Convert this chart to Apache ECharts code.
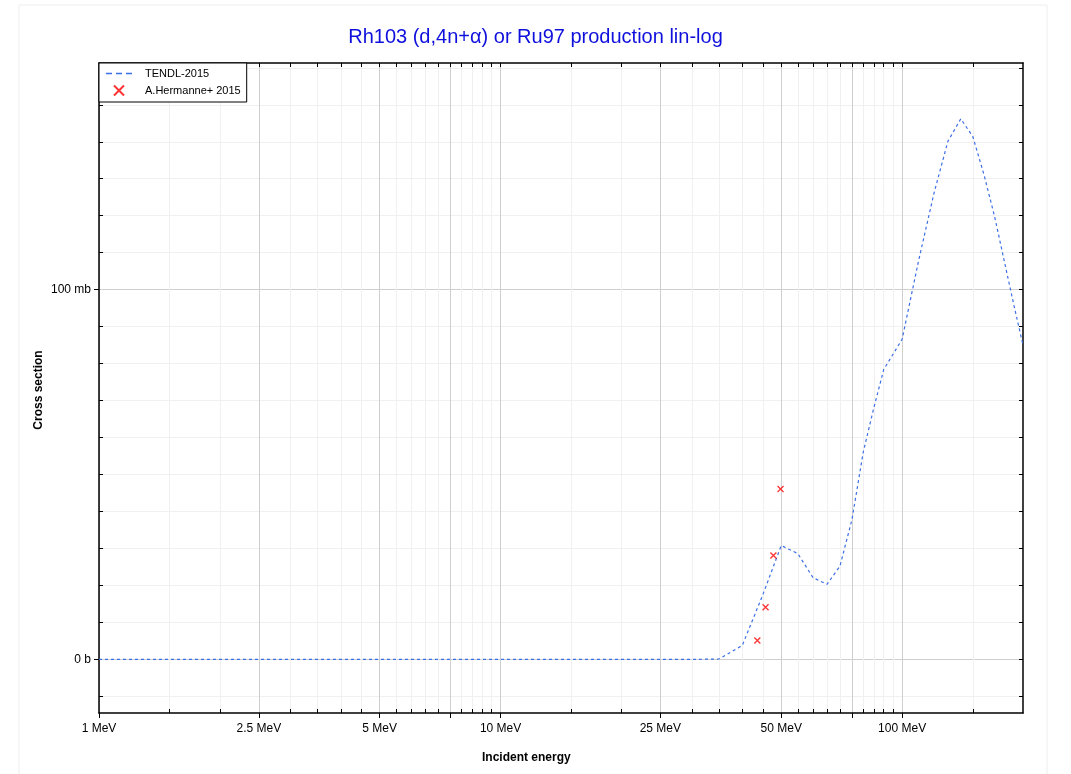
<!DOCTYPE html>
<html>
<head>
<meta charset="utf-8">
<script src="https://cdn.jsdelivr.net/npm/echarts@6/dist/echarts.min.js"></script>
<style>
  html, body { margin: 0; padding: 0; background: #fff; }
  #main { width: 1071px; height: 774px; }
</style>
</head>
<body>
<div id="main"></div>
<script>
// TENDL-2015 curve (energy in MeV, cross section in mb)
var tendlE = [1, 2, 5, 10, 15, 20, 25, 30, 35, 40, 45, 50, 55, 60, 65, 70, 75, 80, 85, 90, 100, 110, 120, 130, 140, 150, 160, 170, 180, 190, 200]
var tendlXs = [0, 0, 0, 0, 0, 0, 0, 0, 0.1, 3.8, 17.5, 30.8, 28.6, 22.1, 20.3, 25.2, 37.8, 56, 68, 78.4, 86.6, 108, 126, 140.1, 146.2, 141.4, 131, 119.7, 107.3, 95.6, 85]
// A.Hermanne+ 2015 measured points
var expE = [43.6, 45.7, 47.8, 49.8]
var expXs = [5.1, 14.1, 28.1, 46.1]
// axis ticks
var xMajor = [1, 2.5, 5, 7.5, 10, 25, 50, 75, 100]
var xLabels = [1, 2.5, 5, 10, 25, 50, 100]
var xMinor = [1.5, 2, 3, 3.5, 4, 4.5, 5.5, 6, 6.5, 7, 8, 8.5, 9, 9.5,
              15, 20, 30, 35, 40, 45, 55, 60, 65, 70, 80, 85, 90, 95, 150]
var yMajor = [0, 100]
var yMinor = [-10, 10, 20, 30, 40, 50, 60, 70, 80, 90, 110, 120, 130, 140, 150, 160]

var myChart = echarts.init(document.getElementById('main'));

var xMin = 1, xMax = 200, yMin = -14.5, yMax = 161.3
var font = 'Liberation Sans, Arial, sans-serif'

// dashed legend icon, 30x10 box with three dashes in the middle
var dashIcon = 'path://M0,0 L0.01,0 L0,0.01 Z M30,10 L29.99,10 L30,9.99 Z ' +
    'M2,4.3 h6 v1.5 h-6 Z M12,4.3 h6 v1.5 h-6 Z M22,4.3 h6 v1.5 h-6 Z'

function mev(v) {
    var r = Math.round(v * 10) / 10
    return r + ' MeV'
}

var tendlData = [], expData = []
for (var i = 0; i < tendlE.length; i++) tendlData.push([tendlE[i], tendlXs[i]])
for (var j = 0; j < expE.length; j++) expData.push([expE[j], expXs[j]])

var xAll = xMajor.concat(xMinor)
var yAll = yMajor.concat(yMinor)

option = {
    animation : false,
    title : {
        text : 'Rh103 (d,4n+\u03b1) or Ru97 production lin-log',
        left : 'center',
        top : 22,
        textStyle : { color : '#1010dd', fontSize : 20, fontWeight : 'normal', fontFamily : font }
    },
    legend : {
        left : 99,
        top : 63,
        orient : 'vertical',
        backgroundColor : '#fff',
        borderColor : '#000',
        borderWidth : 1,
        borderRadius : 0,
        padding : [5, 6, 4, 5],
        itemGap : 4,
        itemWidth : 30,
        itemHeight : 10,
        textStyle : { fontSize : 11, color : '#000', fontFamily : font, padding : [0, 0, 0, 6] },
        data : [
            { name : 'TENDL-2015', icon : dashIcon, itemStyle : { color : '#3c6ee6', borderWidth : 0 } },
            'A.Hermanne+ 2015'
        ]
    },
    grid : { left : 99, top : 63, right : 48, bottom : 61, containLabel : false },
    graphic : [
        { type : 'rect', shape : { x : 19, y : 5, width : 1028, height : 800 }, style : { fill : 'none', stroke : '#eeeeee', lineWidth : 1 }, z : -10 },
        { type : 'text', left : 482, top : 752, style : { text : 'Incident energy', font : 'bold 12px ' + font, fill : '#000' } },
        { type : 'text', x : 39, y : 390, rotation : Math.PI / 2,
          style : { text : 'Cross section', font : 'bold 12px ' + font, fill : '#000', align : 'center', verticalAlign : 'middle' } }
    ],
    xAxis : [
        {   // main bottom axis with major ticks and labels
            type : 'log', min : xMin, max : xMax, position : 'bottom',
            axisLine : { onZero : false, lineStyle : { color : '#000', width : 1.5 } },
            axisTick : { customValues : xMajor, length : 5, lineStyle : { color : '#000' } },
            axisLabel : { customValues : xLabels, formatter : mev, color : '#000', fontSize : 12, fontFamily : font, margin : 10 },
            splitLine : { show : true, lineStyle : { color : '#cfcfcf', width : 1 } }
        },
        {   // minor grid
            type : 'log', min : xMin, max : xMax, position : 'bottom',
            axisLine : { show : false, onZero : false },
            axisTick : { customValues : xMinor, inside : true, length : 4, lineStyle : { color : '#000' } },
            axisLabel : { show : false },
            splitLine : { show : true, lineStyle : { color : '#f0f0f0', width : 1 } }
        },
        {   // top mirror
            type : 'log', min : xMin, max : xMax, position : 'top',
            axisLine : { onZero : false, lineStyle : { color : '#000', width : 1.5 } },
            axisTick : { customValues : xAll, inside : true, length : 4, lineStyle : { color : '#000' } },
            axisLabel : { show : false },
            splitLine : { show : false }
        }
    ],
    yAxis : [
        {
            type : 'value', min : yMin, max : yMax, position : 'left',
            axisLine : { onZero : false, lineStyle : { color : '#000', width : 1.5 } },
            axisTick : { customValues : yMajor, length : 5, lineStyle : { color : '#000' } },
            axisLabel : { customValues : yMajor, color : '#000', fontSize : 12, fontFamily : font, margin : 8,
                formatter : function(v) { return v == 0 ? '0 b' : Math.round(v) + ' mb' } },
            splitLine : { show : true, lineStyle : { color : '#cfcfcf', width : 1 } }
        },
        {
            type : 'value', min : yMin, max : yMax, position : 'left',
            axisLine : { show : false, onZero : false },
            axisTick : { customValues : yMinor, inside : true, length : 4, lineStyle : { color : '#000' } },
            axisLabel : { show : false },
            splitLine : { show : true, lineStyle : { color : '#f0f0f0', width : 1 } }
        },
        {
            type : 'value', min : yMin, max : yMax, position : 'right',
            axisLine : { onZero : false, lineStyle : { color : '#000', width : 1.5 } },
            axisTick : { customValues : yAll, inside : true, length : 4, lineStyle : { color : '#000' } },
            axisLabel : { show : false },
            splitLine : { show : false }
        }
    ],
    series : [ {
        name : 'TENDL-2015',
        type : 'line',
        xAxisIndex : 0,
        yAxisIndex : 0,
        data : tendlData,
        showSymbol : false,
        symbol : 'none',
        color : '#3c6ee6',
        lineStyle : { color : '#3c6ee6', width : 1.2, type : [3, 3] },
        z : 5
    }, {
        name : 'A.Hermanne+ 2015',
        type : 'scatter',
        xAxisIndex : 0,
        yAxisIndex : 0,
        data : expData,
        symbol : 'path://M0,0 L10,10 M10,0 L0,10',
        symbolSize : 6,
        itemStyle : { color : 'none', borderColor : '#ff0000', borderWidth : 1.3 },
        z : 6
    } ]
};

myChart.setOption(option);
</script>
</body>
</html>
